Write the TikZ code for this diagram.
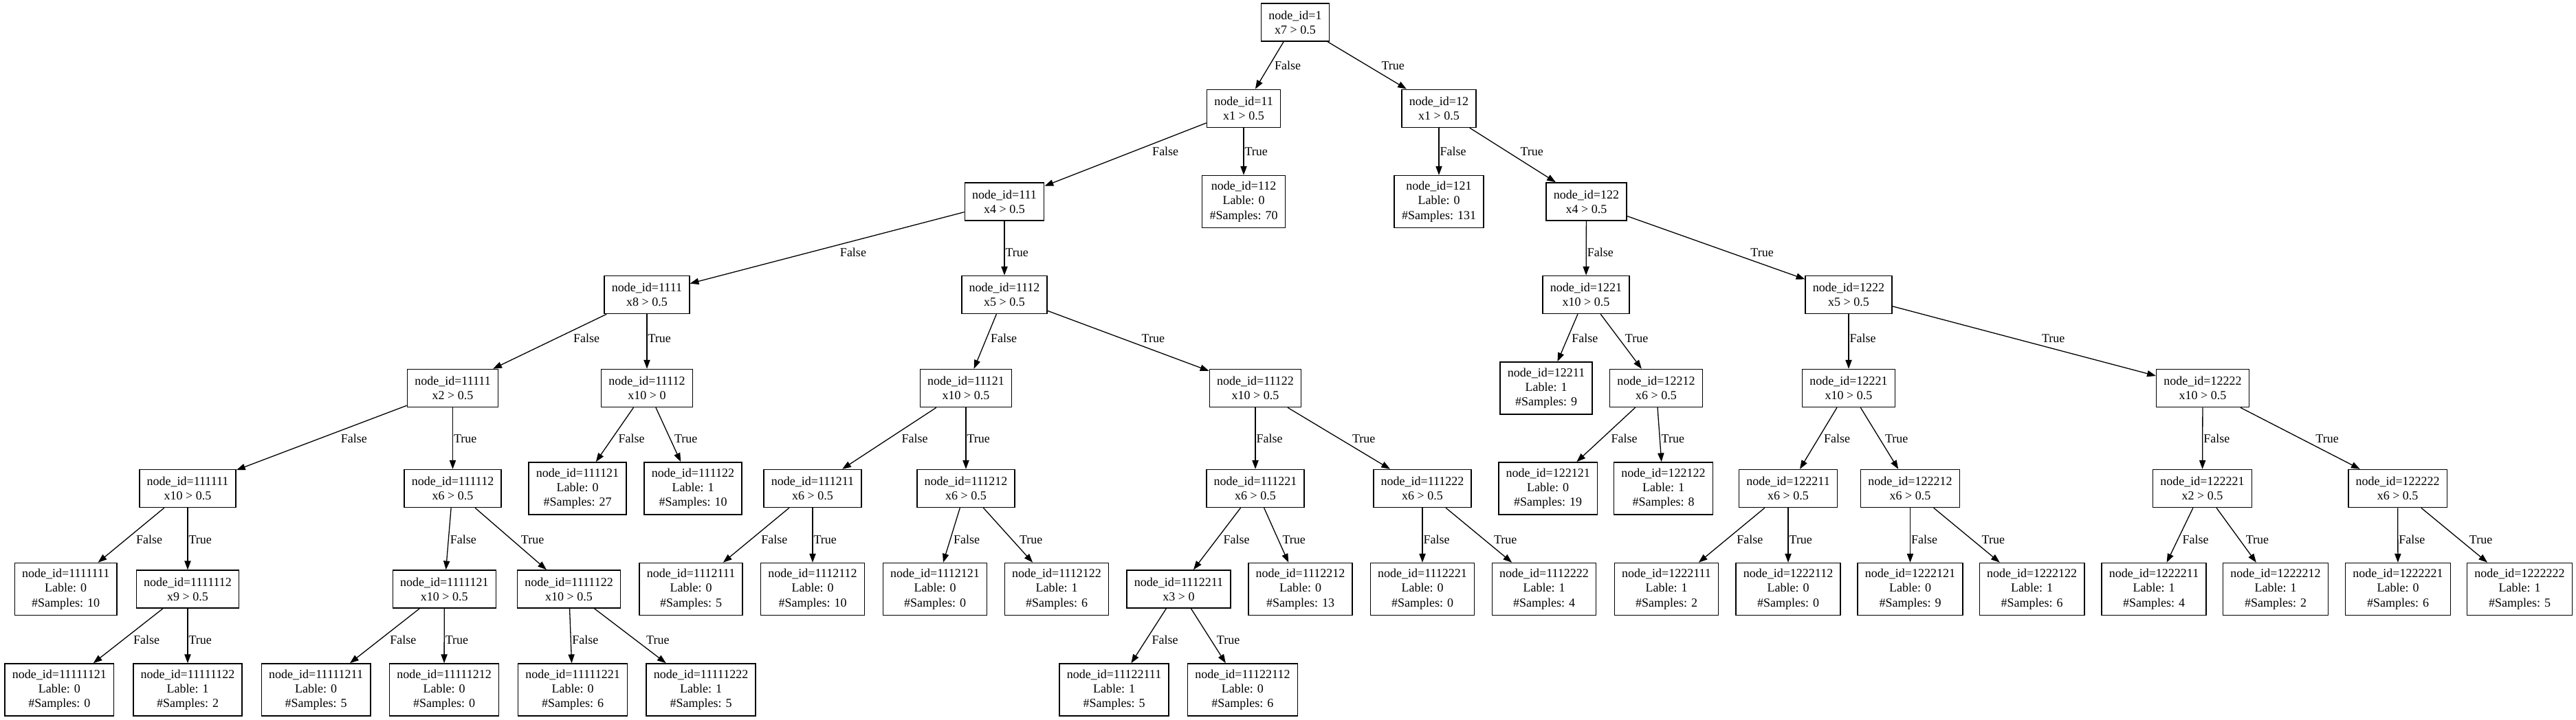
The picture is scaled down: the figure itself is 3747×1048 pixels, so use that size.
\documentclass[tikz,border=0pt]{standalone}
\usepackage{fontspec}
\setmainfont{Liberation Serif}
\usetikzlibrary{arrows.meta,calc}
\tikzset{
  box/.style={draw, line width=0.75pt, align=center, font=\fontsize{9}{10.6}\selectfont, inner xsep=5.4pt, inner ysep=0pt},
  dec/.style={box, minimum height=27.5pt},
  leaf/.style={box, minimum height=38pt},
  conn/.style={line width=0.65pt, -{Triangle[length=6.4pt,width=4.6pt]}},
  elbl/.style={anchor=west, inner sep=0pt, font=\fontsize{9}{10.6}\selectfont, text height=6pt, text depth=0pt}
}
\newcommand\link[4]{%
  \draw[conn] (#1) -- (#2);
  \path let \p1=(#1.center), \p2=(#2.center),
    \n1={((\x2)-(\x1))/((\y2)-(\y1))},
    \n2={max((\x1)+\n1*((-0.5*#3+5.4)-(\y1)), (\x1)+\n1*((-0.5*#3-5.4)-(\y1)))}
  in node[elbl] (l#2) at ({\n2+0.6pt},{-0.5pt*#3}) {#4};}
\begin{document}
\begin{tikzpicture}[x=0.5pt,y=-0.5pt]
\fill[white] (0,0) rectangle (3747,1048);
\useasboundingbox (0,0) rectangle (3747,1048);
% row 0
\node[dec] (n1) at (1884,32.5) {node\_id=1\\x7 > 0.5};
% row 1
\node[dec] (n11) at (1809,157.8) {node\_id=11\\x1 > 0.5};
\node[dec] (n12) at (2093,157.8) {node\_id=12\\x1 > 0.5};
% row 2
\node[dec] (n111) at (1461,293.5) {node\_id=111\\x4 > 0.5};
\node[leaf] (n112) at (1809,293.5) {node\_id=112\\Lable: 0\\\#Samples: 70};
\node[leaf] (n121) at (2093,293.5) {node\_id=121\\Lable: 0\\\#Samples: 131};
\node[dec] (n122) at (2307.5,293.5) {node\_id=122\\x4 > 0.5};
% row 3
\node[dec] (n1111) at (941,429) {node\_id=1111\\x8 > 0.5};
\node[dec] (n1112) at (1461,429) {node\_id=1112\\x5 > 0.5};
\node[dec] (n1221) at (2307,429) {node\_id=1221\\x10 > 0.5};
\node[dec] (n1222) at (2689,429) {node\_id=1222\\x5 > 0.5};
% row 4
\node[dec] (n11111) at (658.5,565) {node\_id=11111\\x2 > 0.5};
\node[dec] (n11112) at (941,565) {node\_id=11112\\x10 > 0};
\node[dec] (n11121) at (1405,565) {node\_id=11121\\x10 > 0.5};
\node[dec] (n11122) at (1826,565) {node\_id=11122\\x10 > 0.5};
\node[leaf] (n12211) at (2249,565) {node\_id=12211\\Lable: 1\\\#Samples: 9};
\node[dec] (n12212) at (2409,565) {node\_id=12212\\x6 > 0.5};
\node[dec] (n12221) at (2689,565) {node\_id=12221\\x10 > 0.5};
\node[dec] (n12222) at (3204,565) {node\_id=12222\\x10 > 0.5};
% row 5
\node[dec] (n111111) at (273,711) {node\_id=111111\\x10 > 0.5};
\node[dec] (n111112) at (658.5,711) {node\_id=111112\\x6 > 0.5};
\node[leaf] (n111121) at (840,711) {node\_id=111121\\Lable: 0\\\#Samples: 27};
\node[leaf] (n111122) at (1008,711) {node\_id=111122\\Lable: 1\\\#Samples: 10};
\node[dec] (n111211) at (1182,711) {node\_id=111211\\x6 > 0.5};
\node[dec] (n111212) at (1405,711) {node\_id=111212\\x6 > 0.5};
\node[dec] (n111221) at (1826,711) {node\_id=111221\\x6 > 0.5};
\node[dec] (n111222) at (2069,711) {node\_id=111222\\x6 > 0.5};
\node[leaf] (n122121) at (2251.7,711) {node\_id=122121\\Lable: 0\\\#Samples: 19};
\node[leaf] (n122122) at (2419.5,711) {node\_id=122122\\Lable: 1\\\#Samples: 8};
\node[dec] (n122211) at (2601,711) {node\_id=122211\\x6 > 0.5};
\node[dec] (n122212) at (2778.5,711) {node\_id=122212\\x6 > 0.5};
\node[dec] (n122221) at (3203.5,711) {node\_id=122221\\x2 > 0.5};
\node[dec] (n122222) at (3487.6,711) {node\_id=122222\\x6 > 0.5};
% row 6
\node[leaf] (n1111111) at (95.7,857.5) {node\_id=1111111\\Lable: 0\\\#Samples: 10};
\node[dec] (n1111112) at (273,857.5) {node\_id=1111112\\x9 > 0.5};
\node[dec] (n1111121) at (646.3,857.5) {node\_id=1111121\\x10 > 0.5};
\node[dec] (n1111122) at (827.5,857.5) {node\_id=1111122\\x10 > 0.5};
\node[leaf] (n1112111) at (1005,857.5) {node\_id=1112111\\Lable: 0\\\#Samples: 5};
\node[leaf] (n1112112) at (1182,857.5) {node\_id=1112112\\Lable: 0\\\#Samples: 10};
\node[leaf] (n1112121) at (1360,857.5) {node\_id=1112121\\Lable: 0\\\#Samples: 0};
\node[leaf] (n1112122) at (1537,857.5) {node\_id=1112122\\Lable: 1\\\#Samples: 6};
\node[dec] (n1112211) at (1714.5,857.5) {node\_id=1112211\\x3 > 0};
\node[leaf] (n1112212) at (1891.5,857.5) {node\_id=1112212\\Lable: 0\\\#Samples: 13};
\node[leaf] (n1112221) at (2069,857.5) {node\_id=1112221\\Lable: 0\\\#Samples: 0};
\node[leaf] (n1112222) at (2246,857.5) {node\_id=1112222\\Lable: 1\\\#Samples: 4};
\node[leaf] (n1222111) at (2424,857.5) {node\_id=1222111\\Lable: 1\\\#Samples: 2};
\node[leaf] (n1222112) at (2601,857.5) {node\_id=1222112\\Lable: 0\\\#Samples: 0};
\node[leaf] (n1222121) at (2778.5,857.5) {node\_id=1222121\\Lable: 0\\\#Samples: 9};
\node[leaf] (n1222122) at (2955.6,857.5) {node\_id=1222122\\Lable: 1\\\#Samples: 6};
\node[leaf] (n1222211) at (3133,857.5) {node\_id=1222211\\Lable: 1\\\#Samples: 4};
\node[leaf] (n1222212) at (3310,857.5) {node\_id=1222212\\Lable: 1\\\#Samples: 2};
\node[leaf] (n1222221) at (3488,857.5) {node\_id=1222221\\Lable: 0\\\#Samples: 6};
\node[leaf] (n1222222) at (3665,857.5) {node\_id=1222222\\Lable: 1\\\#Samples: 5};
% row 7
\node[leaf] (n11111121) at (86.4,1004) {node\_id=11111121\\Lable: 0\\\#Samples: 0};
\node[leaf] (n11111122) at (273,1004) {node\_id=11111122\\Lable: 1\\\#Samples: 2};
\node[leaf] (n11111211) at (459.6,1004) {node\_id=11111211\\Lable: 0\\\#Samples: 5};
\node[leaf] (n11111212) at (646,1004) {node\_id=11111212\\Lable: 0\\\#Samples: 0};
\node[leaf] (n11111221) at (833,1004) {node\_id=11111221\\Lable: 0\\\#Samples: 6};
\node[leaf] (n11111222) at (1019.5,1004) {node\_id=11111222\\Lable: 1\\\#Samples: 5};
\node[leaf] (n11122111) at (1620.5,1004) {node\_id=11122111\\Lable: 1\\\#Samples: 5};
\node[leaf] (n11122112) at (1807.4,1004) {node\_id=11122112\\Lable: 0\\\#Samples: 6};
% edges
\link{n1}{n11}{96}{False}
\link{n1}{n12}{96}{True}
\link{n11}{n111}{221}{False}
\link{n11}{n112}{221}{True}
\link{n12}{n121}{221}{False}
\link{n12}{n122}{221}{True}
\link{n111}{n1111}{367}{False}
\link{n111}{n1112}{367}{True}
\link{n122}{n1221}{367}{False}
\link{n122}{n1222}{367}{True}
\link{n1111}{n11111}{492}{False}
\link{n1111}{n11112}{492}{True}
\link{n1112}{n11121}{492}{False}
\link{n1112}{n11122}{492}{True}
\link{n1221}{n12211}{492}{False}
\link{n1221}{n12212}{492}{True}
\link{n1222}{n12221}{492}{False}
\link{n1222}{n12222}{492}{True}
\link{n11111}{n111111}{638}{False}
\link{n11111}{n111112}{638}{True}
\link{n11112}{n111121}{638}{False}
\link{n11112}{n111122}{638}{True}
\link{n11121}{n111211}{638}{False}
\link{n11121}{n111212}{638}{True}
\link{n11122}{n111221}{638}{False}
\link{n11122}{n111222}{638}{True}
\link{n12212}{n122121}{638}{False}
\link{n12212}{n122122}{638}{True}
\link{n12221}{n122211}{638}{False}
\link{n12221}{n122212}{638}{True}
\link{n12222}{n122221}{638}{False}
\link{n12222}{n122222}{638}{True}
\link{n111111}{n1111111}{785}{False}
\link{n111111}{n1111112}{785}{True}
\link{n111112}{n1111121}{785}{False}
\link{n111112}{n1111122}{785}{True}
\link{n111211}{n1112111}{785}{False}
\link{n111211}{n1112112}{785}{True}
\link{n111212}{n1112121}{785}{False}
\link{n111212}{n1112122}{785}{True}
\link{n111221}{n1112211}{785}{False}
\link{n111221}{n1112212}{785}{True}
\link{n111222}{n1112221}{785}{False}
\link{n111222}{n1112222}{785}{True}
\link{n122211}{n1222111}{785}{False}
\link{n122211}{n1222112}{785}{True}
\link{n122212}{n1222121}{785}{False}
\link{n122212}{n1222122}{785}{True}
\link{n122221}{n1222211}{785}{False}
\link{n122221}{n1222212}{785}{True}
\link{n122222}{n1222221}{785}{False}
\link{n122222}{n1222222}{785}{True}
\link{n1111112}{n11111121}{931.5}{False}
\link{n1111112}{n11111122}{931.5}{True}
\link{n1111121}{n11111211}{931.5}{False}
\link{n1111121}{n11111212}{931.5}{True}
\link{n1111122}{n11111221}{931.5}{False}
\link{n1111122}{n11111222}{931.5}{True}
\link{n1112211}{n11122111}{931.5}{False}
\link{n1112211}{n11122112}{931.5}{True}
\end{tikzpicture}
\end{document}
